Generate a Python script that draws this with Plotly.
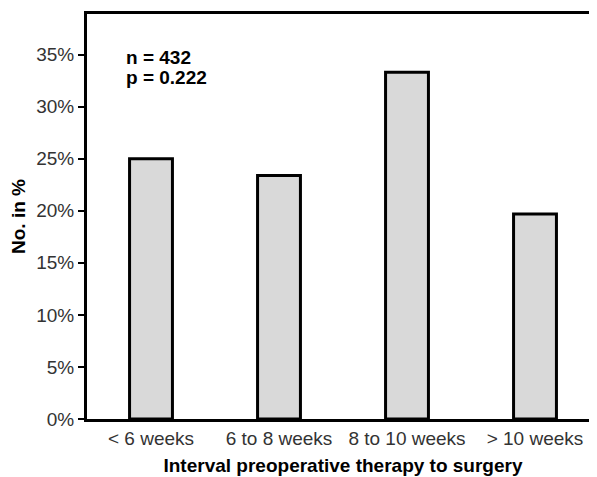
import plotly.graph_objects as go

categories = ["< 6 weeks", "6 to 8 weeks", "8 to 10 weeks", "> 10 weeks"]
values = [0.250, 0.234, 0.333, 0.197]
tick_vals = [0, 0.05, 0.10, 0.15, 0.20, 0.25, 0.30, 0.35]
tick_text = ["0%", "5%", "10%", "15%", "20%", "25%", "30%", "35%"]
stats_text = ["n = 432", "p = 0.222"]

fig = go.Figure(go.Bar(
    x=categories, y=values, width=0.335,
    marker=dict(color="#d9d9d9", line=dict(color="black", width=3)),
))

# plot area: x 79..593, y 3..411 px
anns = []
for i, t in enumerate(stats_text):
    ypx = 47 + 20 * i
    anns.append(dict(
        xref="paper", yref="paper", x=(116 - 79) / 514, y=1 - (ypx - 3) / 408,
        xanchor="left", yanchor="middle", text="<b>%s</b>" % t, showarrow=False,
        font=dict(size=19, color="black"),
    ))

fig.update_layout(
    width=597, height=477,
    margin=dict(l=79, r=4, t=3, b=66),
    paper_bgcolor="white", plot_bgcolor="white",
    font=dict(family="Liberation Sans, Arial", size=19, color="#333333"),
    showlegend=False,
    annotations=anns,
)
fig.update_xaxes(
    showline=True, linecolor="black", linewidth=3, mirror=True,
    ticks="", tickfont=dict(size=19, color="#333333"),
    title=dict(text="<b>Interval preoperative therapy to surgery</b>", font=dict(size=19, color="black"), standoff=11),
)
fig.update_yaxes(
    range=[0, 0.389], tickvals=tick_vals, ticktext=tick_text,
    showline=True, linecolor="black", linewidth=3, mirror=True,
    ticks="outside", ticklen=6, tickwidth=1.5, tickcolor="black",
    showgrid=False, zeroline=False,
    tickfont=dict(size=19, color="#333333"),
    title=dict(text="<b>No. in %</b>", font=dict(size=19, color="black"), standoff=8),
)

fig.write_html("out.html")
